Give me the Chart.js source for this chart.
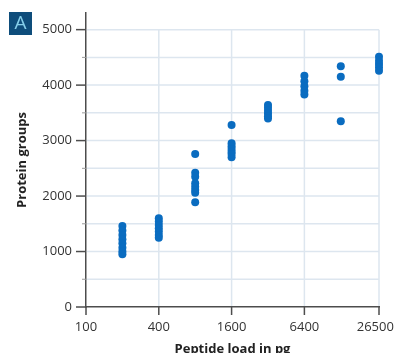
<!DOCTYPE html>
<html>
<head>
<meta charset="utf-8">
<script src="https://cdn.jsdelivr.net/npm/chart.js@4/dist/chart.umd.min.js"></script>
<style>
html,body{margin:0;padding:0;background:#fff;}
#wrap{width:395px;height:353px;position:relative;}
</style>
</head>
<body>
<div id="wrap"><canvas id="c" width="395" height="353"></canvas></div>
<script>
// Peptide loads (pg) at which protein groups were measured
const loads = [200, 400, 800, 1600, 3200, 6400, 12800, 26500];
// Protein groups identified per replicate, one array per load
const groups200 = [1460, 1380, 1300, 1220, 1150, 1070, 1000, 950];
const groups400 = [1600, 1540, 1480, 1420, 1360, 1300, 1250];
const groups800 = [2760, 2420, 2350, 2230, 2170, 2110, 2060, 1890];
const groups1600 = [3280, 2950, 2900, 2850, 2800, 2760, 2700];
const groups3200 = [3640, 3590, 3540, 3490, 3440, 3400];
const groups6400 = [4170, 4070, 3980, 3900, 3830];
const groups12800 = [4340, 4150, 3350];
const groups26500 = [4510, 4440, 4380, 4320, 4260];
const xTickValues = [100, 400, 1600, 6400, 26500];
const yTickValues = [0, 1000, 2000, 3000, 4000, 5000];
const yMinorValues = [500, 1500, 2500, 3500, 4500];
const xLabel = 'Peptide load in pg';
const yLabel = 'Protein groups';
const panelLetter = 'A';

const columns = [groups200, groups400, groups800, groups1600, groups3200, groups6400, groups12800, groups26500];
const points = [];
loads.forEach((l, i) => columns[i].forEach(v => points.push({x: l, y: v})));

const FONT = "'Open Sans', 'Noto Sans', sans-serif";
const AXIS = '#4d4d4d';
const GRID = '#dde6ef';

const decor = {
  id: 'decor',
  beforeDraw(chart) {
    const {ctx, scales: {x, y}} = chart;
    ctx.save();
    ctx.strokeStyle = GRID;
    ctx.lineWidth = 1.5;
    const allY = yTickValues.concat(yMinorValues).filter(v => v > 0);
    allY.forEach(v => {
      const py = y.getPixelForValue(v);
      ctx.beginPath(); ctx.moveTo(x.left + 1, py); ctx.lineTo(x.right, py); ctx.stroke();
    });
    const yTop = y.getPixelForValue(5000), yBot = y.getPixelForValue(0);
    xTickValues.filter(v => v > 100).forEach(v => {
      const px = x.getPixelForValue(v);
      ctx.beginPath(); ctx.moveTo(px, yTop); ctx.lineTo(px, yBot - 1); ctx.stroke();
    });
    ctx.restore();
  },
  afterDraw(chart) {
    const {ctx, scales: {x, y}} = chart;
    ctx.save();
    ctx.strokeStyle = AXIS;
    ctx.lineWidth = 1.5;
    yTickValues.forEach(v => {
      const py = y.getPixelForValue(v);
      ctx.beginPath(); ctx.moveTo(x.left - 10, py); ctx.lineTo(x.left, py); ctx.stroke();
    });
    ctx.strokeStyle = '#9a9a9a';
    ctx.lineWidth = 1;
    yMinorValues.forEach(v => {
      const py = y.getPixelForValue(v);
      ctx.beginPath(); ctx.moveTo(x.left - 4, py); ctx.lineTo(x.left, py); ctx.stroke();
    });
    ctx.strokeStyle = AXIS;
    ctx.lineWidth = 1.5;
    xTickValues.forEach(v => {
      const px = x.getPixelForValue(v);
      ctx.beginPath(); ctx.moveTo(px, y.bottom); ctx.lineTo(px, y.bottom + 8); ctx.stroke();
    });
    // panel letter badge
    ctx.fillStyle = '#0e4d7b';
    ctx.fillRect(9, 12, 23, 23);
    ctx.fillStyle = '#86cfea';
    ctx.font = "19px " + FONT;
    ctx.textAlign = 'center';
    ctx.textBaseline = 'middle';
    ctx.fillText(panelLetter, 20.5, 24);
    ctx.restore();
  }
};

new Chart(document.getElementById('c'), {
  type: 'scatter',
  data: {
    datasets: [{
      data: points,
      backgroundColor: '#0a6cc0',
      borderWidth: 0,
      pointRadius: 4,
      pointHoverRadius: 4,
      clip: false
    }]
  },
  options: {
    responsive: false,
    animation: false,
    events: [],
    layout: {padding: {top: 13, right: 16, left: 0, bottom: 0}},
    plugins: {legend: {display: false}, tooltip: {enabled: false}},
    scales: {
      x: {
        type: 'logarithmic',
        min: 100,
        max: 26500,
        afterBuildTicks: s => { s.ticks = xTickValues.map(v => ({value: v})); },
        afterFit: s => { s.height = 46; s.paddingLeft = 0; s.paddingRight = 0; },
        grid: {display: false, drawTicks: false},
        border: {display: true, color: AXIS, width: 1.5},
        ticks: {
          autoSkip: false, maxRotation: 0, padding: 12,
          color: '#333', font: {family: FONT, size: 13},
          callback: (v, i, arr) => i === arr.length - 1 ? String(v) + '\u2007' : String(v)
        },
        title: {display: true, text: xLabel, color: '#222',
          font: {family: FONT, size: 13, weight: 'bold'}, padding: {top: 0, bottom: -4}}
      },
      y: {
        min: 0,
        max: 5300,
        afterBuildTicks: s => { s.ticks = yTickValues.map(v => ({value: v})); },
        afterFit: s => { s.width = 86; s.paddingTop = 0; s.paddingBottom = 0; },
        grid: {display: false, drawTicks: false},
        border: {display: true, color: AXIS, width: 1.5},
        ticks: {
          autoSkip: false, padding: 14,
          color: '#333', font: {family: FONT, size: 13},
          callback: v => String(v)
        },
        title: {display: true, text: yLabel, color: '#222',
          font: {family: FONT, size: 13, weight: 'bold'}, padding: {top: 14, bottom: 0}}
      }
    }
  },
  plugins: [decor]
});
</script>
</body>
</html>
